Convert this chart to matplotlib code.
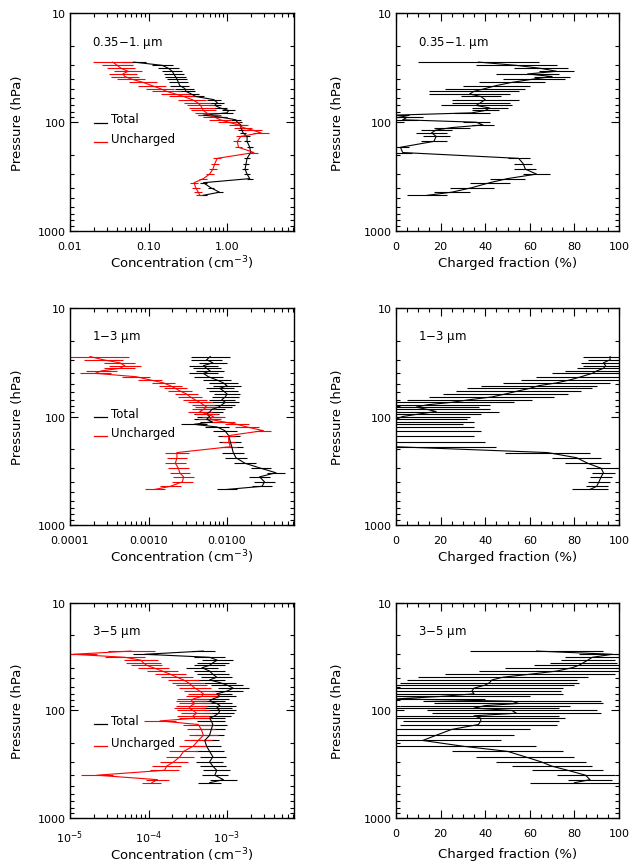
import numpy as np
import matplotlib
matplotlib.use("Agg")
import matplotlib.pyplot as plt
from matplotlib.ticker import FixedLocator, NullFormatter, MultipleLocator

# ---------------- data ----------------
pressure = [28, 30, 32, 34, 36, 38, 40, 43, 46, 49, 52, 55, 58, 62, 66, 70, 74, 78, 82, 86,
            90, 95, 100, 106, 112, 118, 125, 135, 150, 170, 190, 215, 240, 270, 300, 330,
            360, 400, 440, 470]

size_labels = ["0.35\u22121. $\\mu$m", "1\u22123 $\\mu$m", "3\u22125 $\\mu$m"]

# 0.35-1 um
total_1 = [0.065, 0.15, 0.18, 0.2, 0.21, 0.22, 0.23, 0.24, 0.25, 0.29, 0.3, 0.35, 0.4, 0.68,
           0.75, 0.7, 0.82, 1.05, 1.0, 0.5, 0.85, 1.3, 1.35, 1.5, 1.5, 1.55, 1.6, 1.8, 1.8,
           1.95, 2.0, 1.8, 1.75, 1.7, 1.8, 1.95, 0.5, 0.62, 0.8, 0.5]
total_1_err = [0.15, 0.13, 0.13, 0.13, 0.13, 0.13, 0.13, 0.12, 0.12, 0.12, 0.11, 0.1, 0.1, 0.09,
               0.09, 0.08, 0.08, 0.08, 0.08, 0.07, 0.07, 0.06, 0.06, 0.05, 0.05, 0.05, 0.04, 0.04,
               0.035, 0.035, 0.035, 0.035, 0.035, 0.035, 0.035, 0.035, 0.04, 0.04, 0.04, 0.05]
unch_1 = [0.035, 0.04, 0.045, 0.055, 0.047, 0.05, 0.06, 0.085, 0.11, 0.14, 0.17, 0.22, 0.28, 0.36,
          0.42, 0.46, 0.48, 0.5, 0.55, 0.6, 0.7, 0.82, 1.05, 1.4, 1.6, 2.1, 2.7, 1.5, 1.35, 1.4,
          2.2, 0.75, 0.7, 0.66, 0.6, 0.5, 0.38, 0.4, 0.43, 0.45]
unch_1_err = [0.25, 0.2, 0.18, 0.18, 0.18, 0.18, 0.18, 0.18, 0.18, 0.18, 0.18, 0.18, 0.18, 0.18,
              0.17, 0.17, 0.16, 0.16, 0.15, 0.15, 0.15, 0.14, 0.14, 0.12, 0.12, 0.12, 0.1, 0.06,
              0.05, 0.05, 0.05, 0.05, 0.05, 0.05, 0.05, 0.05, 0.05, 0.05, 0.05, 0.05]
frac_1 = [37, 54, 65, 72, 59, 70, 62, 52, 45, 40, 35, 33, 38, 40, 38, 36, 42, 40, 34, 0, 5, 3,
          36, 39, 25, 18, 16, 18, 17, 2, 3, 55, 57, 58, 63, 50, 42, 34, 25, 14]
frac_1_err = [27, 18, 12, 8, 14, 8, 14, 15, 15, 18, 20, 18, 9, 15, 13, 16, 8, 6, 8, 6, 7, 7, 6,
              5, 8, 7, 7, 6, 6, 4, 4, 5, 4, 5, 6, 8, 9, 10, 8, 9]

# 1-3 um
total_2 = [6.1e-3, 5.5e-3, 6.6e-3, 5.0e-3, 5.5e-3, 6.1e-3, 5.0e-3, 5.8e-3, 7.4e-3, 9.0e-3,
           1.0e-2, 8.1e-3, 9.0e-3, 1.0e-2, 9.5e-3, 8.6e-3, 9.5e-3, 8.6e-3, 7.8e-3, 6.4e-3,
           6.1e-3, 5.5e-3, 6.0e-3, 5.5e-3, 6.5e-3, 3.8e-3, 7.5e-3, 9.4e-3, 1.05e-2, 1.1e-2,
           1.15e-2, 1.2e-2, 1.3e-2, 1.7e-2, 2.7e-2, 4.2e-2, 2.6e-2, 3.0e-2, 2.8e-2, 1.0e-2]
total_2_err = [0.25, 0.2, 0.18, 0.18, 0.18, 0.18, 0.18, 0.18, 0.18, 0.18, 0.18, 0.18, 0.18, 0.17,
               0.17, 0.17, 0.17, 0.17, 0.17, 0.17, 0.16, 0.16, 0.16, 0.16, 0.16, 0.16, 0.15, 0.15,
               0.14, 0.14, 0.14, 0.14, 0.14, 0.14, 0.13, 0.12, 0.13, 0.13, 0.13, 0.13]
unch_2 = [1.8e-4, 2.65e-4, 4.3e-4, 5.0e-4, 4.3e-4, 2.5e-4, 2.1e-4, 7.0e-4, 1.05e-3, 1.55e-3,
          1.9e-3, 2.2e-3, 2.5e-3, 3.05e-3, 3.4e-3, 3.9e-3, 4.5e-3, 5.0e-3, 5.5e-3, 5.0e-3,
          4.5e-3, 5.5e-3, 6.7e-3, 6.0e-3, 9.0e-3, 1.33e-2, 1.8e-2, 2.9e-2, 1.05e-2, 1.05e-2,
          1.1e-2, 2.3e-3, 2.3e-3, 2.2e-3, 2.4e-3, 2.5e-3, 2.8e-3, 2.7e-3, 1.9e-3, 1.2e-3]
unch_2_err = [0.5, 0.25, 0.2, 0.2, 0.2, 0.2, 0.2, 0.18, 0.15, 0.15, 0.15, 0.15, 0.15, 0.15,
              0.15, 0.15, 0.15, 0.15, 0.15, 0.15, 0.15, 0.15, 0.15, 0.15, 0.15, 0.15, 0.15, 0.1,
              0.08, 0.08, 0.08, 0.15, 0.13, 0.13, 0.13, 0.13, 0.13, 0.13, 0.13, 0.13]
frac_2 = [96, 96, 93, 94, 93, 90, 88, 83, 78, 72, 64, 60, 55, 49, 43, 33, 25, 14, 9, 14, 18,
          10, 3, 0, 0, 0, 0, 0, 0, 0, 0, 68, 81, 86, 92, 93, 92, 91, 90, 87]
frac_2_err = [12, 10, 10, 10, 12, 14, 18, 20, 22, 24, 26, 28, 28, 28, 28, 28, 28, 28, 28, 28,
              28, 28, 30, 32, 35, 30, 35, 38, 35, 40, 45, 19, 11, 10, 7, 5, 5, 5, 5, 8]

# 3-5 um
total_3 = [5.0e-4, 9.0e-5, 6.0e-4, 7.5e-4, 6.6e-4, 6.0e-4, 4.8e-4, 6.0e-4, 6.6e-4, 7.4e-4,
           6.0e-4, 8.1e-4, 1.0e-3, 1.2e-3, 1.0e-3, 7.4e-4, 8.1e-4, 6.6e-4, 6.0e-4, 7.4e-4,
           8.1e-4, 7.4e-4, 8.1e-4, 7.8e-4, 7.0e-4, 6.0e-4, 6.3e-4, 6.6e-4, 6.3e-4, 6.0e-4,
           5.2e-4, 5.5e-4, 6.0e-4, 6.6e-4, 6.0e-4, 6.6e-4, 7.4e-4, 7.0e-4, 9.0e-4, 6.0e-4]
total_3_err = [0.15, 0.15, 0.2, 0.2, 0.2, 0.2, 0.2, 0.2, 0.2, 0.2, 0.2, 0.2, 0.2, 0.2, 0.2, 0.2,
               0.2, 0.2, 0.2, 0.2, 0.2, 0.2, 0.2, 0.2, 0.2, 0.2, 0.18, 0.18, 0.18, 0.18, 0.18,
               0.18, 0.18, 0.17, 0.17, 0.17, 0.17, 0.17, 0.17, 0.15]
unch_3 = [6.0e-5, 1.1e-5, 5.0e-5, 8.0e-5, 8.6e-5, 9.5e-5, 1.15e-4, 1.5e-4, 1.9e-4, 2.3e-4,
          2.8e-4, 3.2e-4, 3.5e-4, 3.9e-4, 4.5e-4, 5.0e-4, 4.8e-4, 3.7e-4, 3.5e-4, 3.9e-4,
          3.5e-4, 3.3e-4, 3.7e-4, 4.1e-4, 3.7e-4, 3.9e-4, 1.4e-4, 4.3e-4, 4.7e-4, 5.0e-4,
          4.3e-4, 3.7e-4, 2.8e-4, 2.5e-4, 2.1e-4, 1.7e-4, 1.6e-4, 2.2e-5, 1.3e-4, 1.1e-4]
unch_3_err = [0.3, 0.3, 0.25, 0.22, 0.22, 0.2, 0.2, 0.2, 0.2, 0.2, 0.2, 0.2, 0.2, 0.2, 0.2, 0.2,
              0.2, 0.2, 0.2, 0.2, 0.2, 0.2, 0.2, 0.2, 0.2, 0.2, 0.2, 0.2, 0.18, 0.18, 0.18, 0.18,
              0.18, 0.18, 0.18, 0.18, 0.18, 0.2, 0.15, 0.12]
frac_3 = [63, 97, 88, 86, 84, 82, 79, 72, 60, 48, 43, 42, 40, 35, 34, 35, 20, 0, 52, 55, 40,
          35, 52, 54, 35, 38, 38, 37, 25, 18, 12, 30, 50, 58, 65, 70, 77, 85, 87, 80]
frac_3_err = [30, 15, 12, 12, 15, 20, 30, 35, 38, 38, 38, 40, 40, 40, 40, 40, 40, 40, 40, 38,
              38, 38, 38, 38, 38, 38, 35, 35, 35, 35, 35, 33, 25, 22, 20, 18, 16, 13, 10, 20]

totals = [total_1, total_2, total_3]
totals_err = [total_1_err, total_2_err, total_3_err]
unchs = [unch_1, unch_2, unch_3]
unchs_err = [unch_1_err, unch_2_err, unch_3_err]
fracs = [frac_1, frac_2, frac_3]
fracs_err = [frac_1_err, frac_2_err, frac_3_err]

conc_xlim = [(0.01, 7.14), (1e-4, 7.14e-2), (1e-5, 7.14e-3)]
conc_ticks = [[0.01, 0.1, 1.0], [1e-4, 1e-3, 1e-2], [1e-5, 1e-4, 1e-3]]
conc_ticklabels = [["0.01", "0.10", "1.00"], ["0.0001", "0.0010", "0.0100"],
                   ["10$^{-5}$", "10$^{-4}$", "10$^{-3}$"]]
legend_y = [(0.515, 0.425), (0.515, 0.425), (0.452, 0.352)]
xlabel_y = [-0.143, -0.143, -0.167]

# ---------------- style ----------------
plt.rcParams["font.family"] = ["DejaVu Sans"]
plt.rcParams["mathtext.default"] = "regular"
FS_TICK = 8
FS_LAB = 9.5
FS_TXT = 8.5

fig = plt.figure(figsize=(6.33, 8.62), dpi=100)

rows_y = [(0.7309, 0.2523), (0.3898, 0.2517), (0.0499, 0.2494)]
left_x = (0.1106, 0.3539)
right_x = (0.6256, 0.3523)

P = np.array(pressure, dtype=float)


def log_err(vals, dex):
    v = np.asarray(vals, dtype=float)
    d = np.asarray(dex, dtype=float)
    return np.vstack([v - v / 10 ** d, v * 10 ** d - v])


def style_pressure_axis(ax):
    ax.set_yscale("log")
    ax.set_ylim(1000, 10)
    ax.yaxis.set_major_locator(FixedLocator([10, 100, 1000]))
    ax.yaxis.set_minor_locator(FixedLocator([20, 30, 40, 50, 60, 70, 80, 90,
                                             200, 300, 400, 500, 600, 700, 800, 900]))
    ax.yaxis.set_minor_formatter(NullFormatter())
    ax.set_yticklabels(["10", "100", "1000"])
    ax.tick_params(which="both", direction="in", top=True, right=True, labelsize=FS_TICK)
    ax.tick_params(which="major", length=6, width=0.8)
    ax.tick_params(which="minor", length=3, width=0.8)
    ax.tick_params(axis="y", pad=3)
    ax.tick_params(axis="x", pad=7.5)
    for s in ax.spines.values():
        s.set_linewidth(1.0)


for r in range(3):
    y0, h = rows_y[r]
    # ---- concentration panel ----
    ax = fig.add_axes([left_x[0], y0, left_x[1], h])
    ax.set_xscale("log")
    style_pressure_axis(ax)
    ax.set_xlim(*conc_xlim[r])
    ax.xaxis.set_major_locator(FixedLocator(conc_ticks[r]))
    ax.set_xticklabels(conc_ticklabels[r])
    ax.xaxis.set_minor_formatter(NullFormatter())
    ax.errorbar(totals[r], P, xerr=log_err(totals[r], totals_err[r]), color="black",
                lw=0.8, elinewidth=0.8, capsize=0)
    ax.errorbar(unchs[r], P, xerr=log_err(unchs[r], unchs_err[r]), color="red",
                lw=0.8, elinewidth=0.8, capsize=0)
    ax.set_ylabel("Pressure (hPa)", fontsize=FS_LAB)
    ax.yaxis.set_label_coords(-0.205, 0.5)
    ax.text(0.5, xlabel_y[r], "Concentration (cm$^{-3}$)", transform=ax.transAxes,
            fontsize=FS_LAB, ha="center", va="center")
    ax.text(0.10, 0.87, size_labels[r], transform=ax.transAxes, fontsize=FS_TXT,
            ha="left", va="center")
    ly1, ly2 = legend_y[r]
    ax.plot([0.105, 0.165], [ly1 - 0.017, ly1 - 0.017], transform=ax.transAxes,
            color="black", lw=0.9)
    ax.text(0.183, ly1, "Total", transform=ax.transAxes, fontsize=FS_TXT, va="center")
    ax.plot([0.105, 0.165], [ly2 - 0.017, ly2 - 0.017], transform=ax.transAxes,
            color="red", lw=0.9)
    ax.text(0.183, ly2, "Uncharged", transform=ax.transAxes, fontsize=FS_TXT, va="center")

    # ---- charged fraction panel ----
    ax2 = fig.add_axes([right_x[0], y0, right_x[1], h])
    style_pressure_axis(ax2)
    ax2.set_xlim(0, 100)
    ax2.xaxis.set_major_locator(MultipleLocator(20))
    ax2.xaxis.set_minor_locator(MultipleLocator(5))
    ax2.errorbar(fracs[r], P, xerr=fracs_err[r], color="black", lw=0.8,
                 elinewidth=0.8, capsize=0)
    ax2.set_ylabel("Pressure (hPa)", fontsize=FS_LAB)
    ax2.yaxis.set_label_coords(-0.235, 0.5)
    ax2.text(0.5, xlabel_y[r], "Charged fraction (%)", transform=ax2.transAxes,
             fontsize=FS_LAB, ha="center", va="center")
    ax2.text(0.10, 0.87, size_labels[r], transform=ax2.transAxes, fontsize=FS_TXT,
             ha="left", va="center")

fig.savefig("out.png", dpi=100)
